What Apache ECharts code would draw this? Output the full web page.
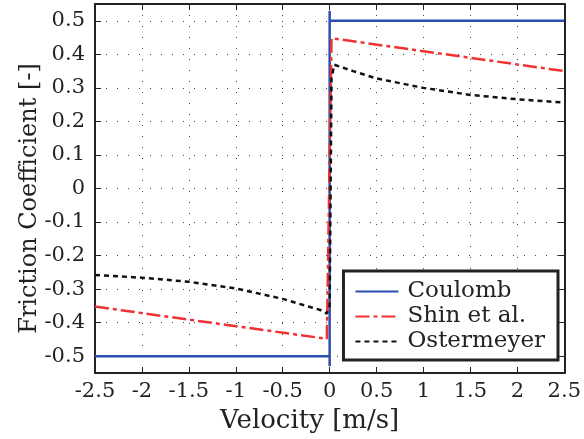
<!DOCTYPE html>
<html><head><meta charset="utf-8">
<script src="https://cdn.jsdelivr.net/npm/echarts@6/dist/echarts.min.js"></script>
<style>html,body{margin:0;padding:0;background:#fff}#c{width:584px;height:439px}</style>
</head><body><div id="c"></div>
<script>
const coulombX = [-2.5, 0, 0, 0, 0, 2.5];
const coulombY = [-0.5, -0.5, -0.53, 0.53, 0.5, 0.5];
const shinX = [-2.5, -0.03, 0.02, 2.5];
const shinY = [-0.352, -0.448, 0.448, 0.35];
const osterX = [-2.5, -2, -1.5, -1, -0.5, -0.25, -0.1, -0.03, 0.0, 0.02, 0.05, 0.25, 0.5, 1, 1.5, 2, 2.5];
const osterY = [-0.258, -0.266, -0.278, -0.298, -0.329, -0.35, -0.362, -0.373, -0.35, 0.33, 0.369, 0.35, 0.328, 0.30, 0.279, 0.266, 0.256];
const xTicks = [-2.5, -2, -1.5, -1, -0.5, 0, 0.5, 1, 1.5, 2, 2.5];
const yTicks = [-0.5, -0.4, -0.3, -0.2, -0.1, 0, 0.1, 0.2, 0.3, 0.4, 0.5];

const pair = (xs, ys) => xs.map((x, i) => [x, ys[i]]);
const font = 'DejaVu Serif';
const fmt = v => {
  const r = Math.round(v * 10) / 10;
  if (Math.abs(r) < 1e-9) return '0';
  return String(r);
};
const boxLine = { show: true, onZero: false, lineStyle: { color: '#222', width: 2 } };
const tick = { show: true, inside: true, length: 6, lineStyle: { color: '#222', width: 1 } };
const chart = echarts.init(document.getElementById('c'));
chart.setOption({
  animation: false,
  grid: { left: 95, right: 18, top: 4, bottom: 64 },
  xAxis: [{
    type: 'value', min: -2.5, max: 2.5, interval: 0.5,
    axisLine: boxLine, axisTick: tick,
    axisLabel: { color: '#222', fontFamily: font, fontSize: 21, margin: 8, formatter: v => fmt(v) },
    splitLine: { show: true, lineStyle: { color: '#444', width: 1, type: [1, 10] } },
    name: 'Velocity [m/s]', nameLocation: 'middle', nameGap: 35, nameMoveOverlap: false,
    nameTextStyle: { color: '#222', fontFamily: font, fontSize: 26, padding: [0, 40, 0, 0] }
  }, {
    type: 'value', position: 'top', min: -2.5, max: 2.5, interval: 0.5,
    axisLine: boxLine, axisTick: tick,
    axisLabel: { show: false }, splitLine: { show: false }
  }],
  yAxis: [{
    type: 'value', min: -0.55, max: 0.55,
    axisLine: boxLine,
    axisTick: Object.assign({ customValues: yTicks }, tick),
    axisLabel: { color: '#222', fontFamily: font, fontSize: 21, margin: 10, customValues: yTicks, formatter: v => fmt(v) },
    splitLine: { show: true, lineStyle: { color: '#444', width: 1, type: [1, 10] } },
    name: 'Friction Coefficient [-]', nameLocation: 'middle', nameGap: 53, nameMoveOverlap: false,
    nameTextStyle: { color: '#222', fontFamily: font, fontSize: 24, padding: [0, 20, 0, 0] }
  }, {
    type: 'value', position: 'right', min: -0.55, max: 0.55,
    axisLine: boxLine,
    axisTick: Object.assign({ customValues: yTicks }, tick),
    axisLabel: { show: false }, splitLine: { show: false }
  }],
  legend: {
    orient: 'vertical', right: 26, top: 271,
    backgroundColor: '#fff', borderColor: '#222', borderWidth: 3, borderRadius: 0,
    padding: [9, 13, 7, 11], itemGap: 2, itemWidth: 43, itemHeight: 14,
    itemStyle: { opacity: 0 },
    textStyle: { color: '#222', fontFamily: font, fontSize: 23, lineHeight: 23, padding: [0, 0, 0, 4] },
    data: ['Coulomb', 'Shin et al.', 'Ostermeyer']
  },
  series: [{
    name: 'Coulomb', type: 'line', data: pair(coulombX, coulombY), symbol: 'none',
    lineStyle: { color: '#2e4db0', width: 2.5 }, itemStyle: { color: '#2e4db0' }, z: 3
  }, {
    name: 'Shin et al.', type: 'line', data: pair(shinX, shinY), symbol: 'none',
    lineStyle: { color: '#f03232', width: 2.5, type: [14, 4, 4, 4] }, itemStyle: { color: '#f03232' }, z: 4
  }, {
    name: 'Ostermeyer', type: 'line', data: pair(osterX, osterY), symbol: 'none',
    lineStyle: { color: '#111', width: 2.5, type: [5, 4] }, itemStyle: { color: '#111' }, z: 5
  }]
});
</script></body></html>
